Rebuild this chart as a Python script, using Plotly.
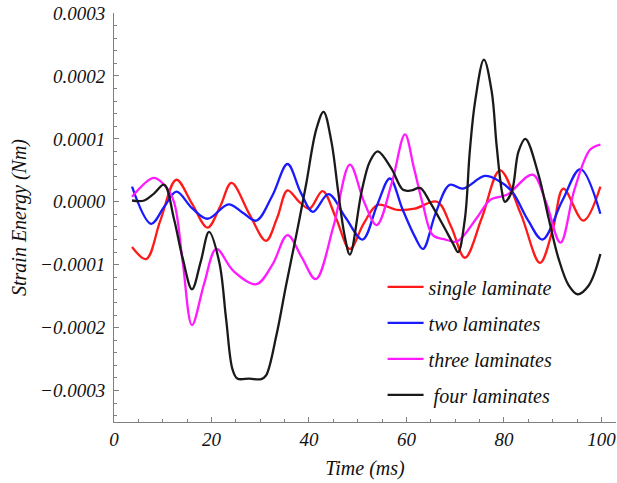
import plotly.graph_objects as go

# ---- data (time in ms, strain energy in units of 1e-4 Nm) ----
t_single = [3.7, 6.6, 9.5, 12.8, 16.0, 19.2, 21.8, 24.1, 27.8, 31.2, 33.5, 35.6, 38.0, 40.1, 42.8,
            45.5, 48.4, 51.2, 54.1, 58.2, 61.7, 66.3, 69.2, 72.0, 75.5, 79.2, 83.5, 87.4, 90.0,
            92.2, 96.3, 99.8]
v_single = [-0.72, -0.91, -0.30, 0.35, -0.03, -0.41, -0.07, 0.30, -0.20, -0.62, -0.25, 0.18, 0.0,
            -0.11, 0.17, -0.25, -0.75, -0.35, -0.05, -0.13, -0.11, 0.0, -0.40, -0.89, -0.25, 0.50,
            -0.20, -0.97, -0.45, 0.21, -0.30, 0.24]

t_two = [3.7, 7.6, 10.3, 12.8, 16.0, 19.2, 23.5, 26.5, 29.2, 32.5, 35.6, 38.3, 40.8, 44.0, 47.5,
         51.0, 54.0, 56.6, 59.2, 61.7, 63.4, 66.0, 68.9, 71.6, 76.1, 79.0, 81.7, 85.0, 87.9, 92.0,
         95.7, 99.8]
v_two = [0.24, -0.35, -0.08, 0.16, -0.10, -0.27, -0.04, -0.18, -0.30, 0.10, 0.60, 0.15, -0.16,
         0.12, -0.25, -0.60, -0.05, 0.37, -0.12, -0.55, -0.75, -0.18, 0.27, 0.21, 0.41, 0.33, 0.16,
         -0.30, -0.60, 0.02, 0.52, -0.19]

t_three = [3.7, 8.2, 10.5, 12.3, 14.1, 16.0, 18.5, 21.0, 24.5, 29.2, 32.5, 35.6, 38.5, 41.4, 45.0,
           48.4, 51.3, 53.9, 57.0, 59.7, 61.5, 63.4, 65.4, 68.0, 70.4, 74.5, 77.2, 80.6, 85.9,
           88.6, 91.6, 94.5, 97.7, 99.8]
v_three = [0.08, 0.38, 0.25, 0.0, -0.96, -1.96, -1.30, -0.75, -1.10, -1.31, -1.00, -0.53, -0.88,
           -1.23, -0.40, 0.59, 0.0, -0.37, 0.30, 1.07, 0.55, -0.05, -0.53, -0.60, -0.63, -0.25,
           0.03, 0.11, 0.43, 0.0, -0.65, 0.20, 0.83, 0.91]

t_four = [3.7, 6.2, 8.2, 10.3, 12.3, 14.1, 16.0, 17.8, 19.5, 21.6, 23.0, 24.3, 25.3, 27.8, 30.2,
          31.2, 33.3, 35.3, 37.4, 39.4, 41.5, 43.0, 44.6, 46.0, 47.3, 48.4, 50.8, 52.5, 54.1, 56.9,
          59.3, 61.0, 62.8, 64.8, 67.5, 69.6, 70.6, 72.0, 73.0, 74.1, 75.9, 77.5, 78.5, 79.6, 80.2,
          81.6, 83.0, 84.4, 87.1, 89.2, 91.2, 93.3, 95.1, 97.4, 99.8]
v_four = [0.02, 0.02, 0.13, 0.27, -0.27, -0.90, -1.39, -0.95, -0.48, -0.96, -1.86, -2.66, -2.81,
          -2.81, -2.82, -2.76, -2.13, -1.33, -0.53, 0.27, 1.15, 1.43, 0.96, 0.16, -0.53, -0.84,
          0.16, 0.64, 0.80, 0.53, 0.19, 0.18, 0.22, 0.0, -0.37, -0.67, -0.80, -0.27, 0.80, 1.60,
          2.26, 1.75, 0.90, 0.16, 0.0, 0.16, 0.80, 1.00, 0.43, -0.27, -0.90, -1.33, -1.47, -1.33,
          -0.83]

names = ["single laminate", "two laminates", "three laminates", " four laminates"]
colors = ["#ff1a1a", "#1a1aff", "#ff1aff", "#1a1a1a"]
series = [(t_single, v_single), (t_two, v_two), (t_three, v_three), (t_four, v_four)]

y_tickvals = [0.0003, 0.0002, 0.0001, 0.0, -0.0001, -0.0002, -0.0003]
y_ticktext = ["0.0003", "0.0002", "0.0001", "0.0000", "\u22120.0001", "\u22120.0002", "\u22120.0003"]

SCALE = 1e-4

fig = go.Figure()
for (t, v), name, col in zip(series, names, colors):
    fig.add_trace(go.Scatter(
        x=t, y=[val * SCALE for val in v], mode="lines", name=name,
        line=dict(color=col, width=2.3, shape="spline", smoothing=1.0),
        legendgroup=name,
    ))

serif = "Liberation Serif"
fig.update_layout(
    width=617, height=483,
    margin=dict(l=114, r=1, t=13, b=61),
    paper_bgcolor="white", plot_bgcolor="white",
    showlegend=True,
    legend=dict(x=0.535, y=0.378, xanchor="left", yanchor="top",
                font=dict(family=serif, size=20, color="#111", style="italic"),
                bgcolor="rgba(0,0,0,0)", tracegroupgap=7, itemwidth=36),
    xaxis=dict(range=[0, 103], showgrid=False, zeroline=False,
               showline=True, linecolor="#808080", linewidth=1,
               tickmode="linear", tick0=0, dtick=20,
               ticks="inside", ticklen=5, tickcolor="#808080",
               minor=dict(dtick=5, tick0=0, ticks="inside", ticklen=3, tickcolor="#808080"),
               tickfont=dict(family=serif, size=19, color="#111", style="italic"),
               title=dict(text="Time (ms)", standoff=12,
                          font=dict(family=serif, size=20, color="#111", style="italic"))),
    yaxis=dict(range=[-0.00035, 0.0003], showgrid=False, zeroline=False,
               showline=True, linecolor="#808080", linewidth=1,
               tickmode="array", tickvals=y_tickvals, ticktext=y_ticktext,
               ticks="inside", ticklen=5, tickcolor="#808080",
               minor=dict(dtick=0.00002, tick0=0, ticks="inside", ticklen=3, tickcolor="#808080"),
               ticklabelstandoff=4,
               tickfont=dict(family=serif, size=19, color="#111", style="italic"),
               title=dict(text="Strain Energy (Nm)", standoff=8,
                          font=dict(family=serif, size=20, color="#111", style="italic"))),
)

fig.write_html("out.html")
